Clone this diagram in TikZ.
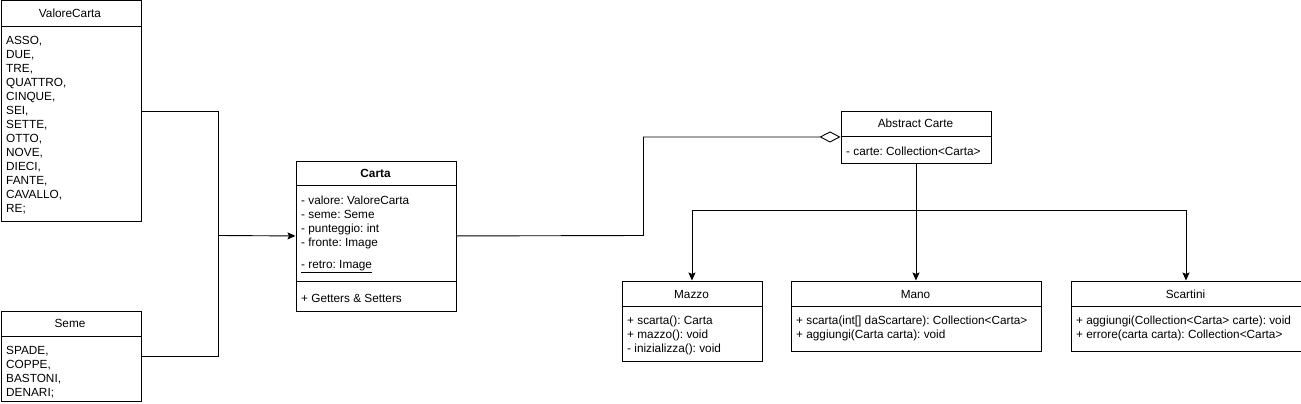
\documentclass[tikz,border=0pt]{standalone}
\usepackage{fontspec}
\setmainfont{Liberation Sans}
\usetikzlibrary{arrows.meta}
\frenchspacing
\tikzset{
  box/.style={draw=black, line width=0.9pt, fill=white, inner sep=0pt, anchor=north west},
  sep/.style={draw=black, line width=0.9pt},
  txt/.style={inner sep=0pt, anchor=west, yshift=-1.5pt, text height=8.5pt, text depth=2.5pt, font=\fontsize{11.8}{13}\selectfont},
  ttl/.style={inner sep=0pt, anchor=center, yshift=-1pt, text height=8.5pt, text depth=2.5pt, font=\fontsize{11.8}{13}\selectfont},
  conn/.style={draw=black, line width=0.9pt},
  arr/.style={conn, -{Stealth[length=8pt, width=7pt, inset=1.5pt]}},
  agg/.style={conn, -{Diamond[open, length=21pt, width=11pt, fill=white]}}
}
\begin{document}
\begin{tikzpicture}[x=1pt,y=-1pt]
\useasboundingbox (0,0) rectangle (1301,404);
% ValoreCarta
\node[box, minimum width=140pt, minimum height=220pt] (vc) at (0.5,0.5) {};
\draw[sep] (0.5,26.5) -- (140.5,26.5);
\node[ttl] (vct) at (70,13.5) {ValoreCarta};
\node[txt] (v1) at (6,40) {ASSO,};
\node[txt] (v2) at (6,54) {DUE,};
\node[txt] (v3) at (6,68) {TRE,};
\node[txt] (v4) at (6,82) {QUATTRO,};
\node[txt] (v5) at (6,96) {CINQUE,};
\node[txt] (v6) at (6,110) {SEI,};
\node[txt] (v7) at (6,124) {SETTE,};
\node[txt] (v8) at (6,138) {OTTO,};
\node[txt] (v9) at (6,152) {NOVE,};
\node[txt] (v10) at (6,166) {DIECI,};
\node[txt] (v11) at (6,180) {FANTE,};
\node[txt] (v12) at (6,194) {CAVALLO,};
\node[txt] (v13) at (6,208) {RE;};
% Seme
\node[box, minimum width=140pt, minimum height=90pt] (seme) at (0.5,310.5) {};
\draw[sep] (0.5,336.5) -- (140.5,336.5);
\node[ttl] (semet) at (70,323.5) {Seme};
\node[txt] (s1) at (6,350) {SPADE,};
\node[txt] (s2) at (6,364) {COPPE,};
\node[txt] (s3) at (6,378) {BASTONI,};
\node[txt] (s4) at (6,392) {DENARI;};
% Carta
\node[box, minimum width=160pt, minimum height=150pt] (carta) at (295.5,160.5) {};
\draw[sep] (295.5,185.5) -- (455.5,185.5);
\draw[sep] (295.5,281.5) -- (455.5,281.5);
\node[ttl, font=\fontsize{11.8}{13}\selectfont\bfseries] (cartat) at (375.5,173.5) {Carta};
\node[txt] (c1) at (301,200) {- valore: ValoreCarta};
\node[txt] (c2) at (301,214) {- seme: Seme};
\node[txt] (c3) at (301,228) {- punteggio: int};
\node[txt] (c4) at (301,242) {- fronte: Image};
\node[txt] (c5) at (301,264) {\underline{- retro: Image}};
\node[txt] (c6) at (301,298) {+ Getters \& Setters};
% Abstract Carte
\node[box, minimum width=150pt, minimum height=52pt] (ac) at (840.5,110.5) {};
\draw[sep] (840.5,136.5) -- (990.5,136.5);
\node[ttl] (act) at (915.5,123.5) {Abstract Carte};
\node[txt] (a1) at (846,151) {- carte: Collection<Carta>};
% Mazzo
\node[box, minimum width=140pt, minimum height=80pt] (mazzo) at (621.5,280.5) {};
\draw[sep] (621.5,306.5) -- (761.5,306.5);
\node[ttl] (mazzot) at (691.5,294) {Mazzo};
\node[txt] (m1) at (627,320) {+ scarta(): Carta};
\node[txt] (m2) at (627,334) {+ mazzo(): void};
\node[txt] (m3) at (627,348) {- inizializza(): void};
% Mano
\node[box, minimum width=250pt, minimum height=70pt] (mano) at (790.5,280.5) {};
\draw[sep] (790.5,306.5) -- (1040.5,306.5);
\node[ttl] (manot) at (915.5,294) {Mano};
\node[txt] (n1) at (796,320) {+ scarta(int[] daScartare): Collection<Carta>};
\node[txt] (n2) at (796,334) {+ aggiungi(Carta carta): void};
% Scartini
\node[box, minimum width=230pt, minimum height=70pt] (scart) at (1070.5,280.5) {};
\draw[sep] (1070.5,306.5) -- (1300.5,306.5);
\node[ttl] (scartt) at (1185.5,294) {Scartini};
\node[txt] (r1) at (1076,320) {+ aggiungi(Collection<Carta> carte): void};
\node[txt] (r2) at (1076,334) {+ errore(carta carta): Collection<Carta>};
% connectors
\coordinate (j) at (218.5,235.5);
\draw[conn] (vc.east) -| (j);
\draw[conn] (seme.east) -| (j);
\draw[arr] (j) -- (carta.west);
\coordinate (k) at (643.5,235.5);
\draw[agg] (carta.east) -- (k) |- (ac.west);
\draw[arr] (ac.south) -- (ac.south |- mano.north);
\coordinate (h) at (915.5,210.5);
\draw[arr] (h) -| (mazzo.north);
\draw[arr] (h) -| (scart.north);
\end{tikzpicture}
\end{document}
